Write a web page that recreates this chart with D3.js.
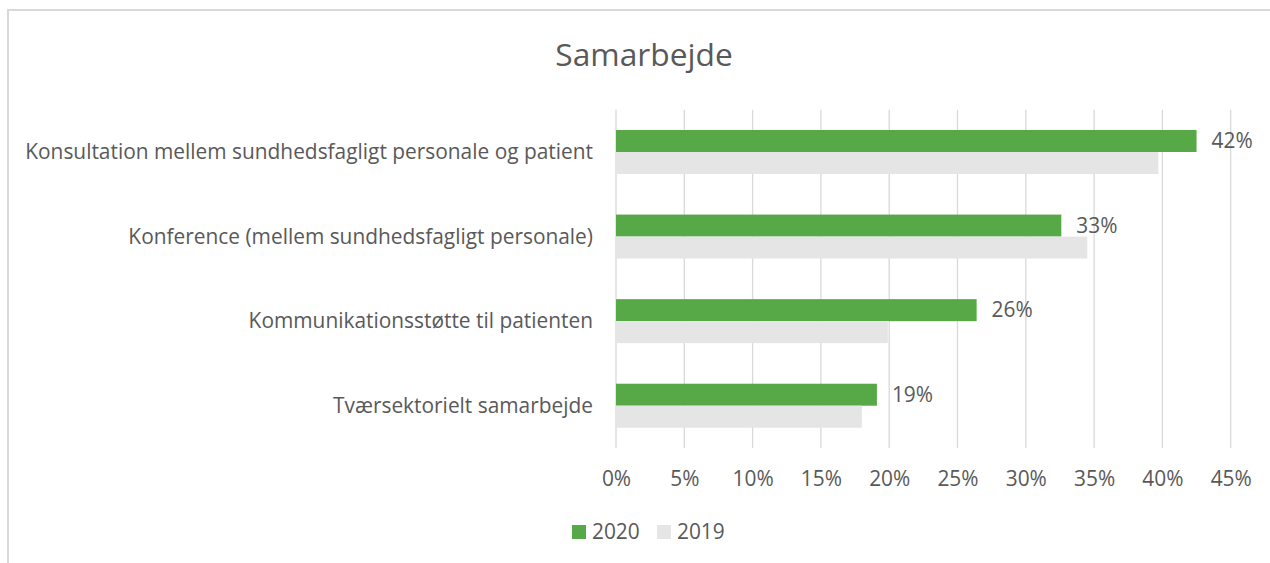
<!DOCTYPE html>
<html><head><meta charset="utf-8">
<script src="https://cdn.jsdelivr.net/npm/d3@7"></script>
<style>
html,body{margin:0;padding:0;background:#fff;}
svg{display:block;}
text{font-family:"Open Sans","Noto Sans",sans-serif;fill:#595959;}
</style></head>
<body>
<script>
const categories = [
  "Konsultation mellem sundhedsfagligt personale og patient",
  "Konference (mellem sundhedsfagligt personale)",
  "Kommunikationsstøtte til patienten",
  "Tværsektorielt samarbejde"
];
const values2020 = [0.425, 0.326, 0.264, 0.191];
const values2019 = [0.397, 0.345, 0.199, 0.180];
const labels2020 = ["42%", "33%", "26%", "19%"];
const seriesNames = ["2020", "2019"];
const xTicks = [0, 0.05, 0.10, 0.15, 0.20, 0.25, 0.30, 0.35, 0.40, 0.45];
const title = "Samarbejde";

const W = 1270, H = 563;
const colors = {"2020": "#57a846", "2019": "#e5e5e5"};

const svg = d3.select("body").append("svg").attr("width", W).attr("height", H);

// chart border
svg.append("path")
  .attr("d", `M8,${H} L8,10 L${W},10`)
  .attr("fill", "none").attr("stroke", "#d9d9d9").attr("stroke-width", 2);

const x = d3.scaleLinear().domain([0, 0.45]).range([616, 1230.7]);
const y = d3.scaleBand().domain(categories).range([109.7, 448]).paddingInner(0.48).paddingOuter(0.24);
const sub = d3.scaleBand().domain(seriesNames).range([0, y.bandwidth()]);

// fit font size to reference width of longest label
const probe = svg.append("text").attr("font-size", 100).text(categories[0]);
const w100 = probe.node().getComputedTextLength();
probe.remove();
const fs = 100 * 568 / w100;

// gridlines
svg.append("g").selectAll("line").data(xTicks).join("line")
  .attr("x1", d => x(d)).attr("x2", d => x(d))
  .attr("y1", 109.7).attr("y2", 448)
  .attr("stroke", "#d9d9d9").attr("stroke-width", 1.3);

// bars
const groups = svg.append("g").selectAll("g").data(categories).join("g")
  .attr("transform", d => `translate(0,${y(d)})`);
groups.append("rect")
  .attr("x", x(0)).attr("y", sub("2020"))
  .attr("width", (d, i) => x(values2020[i]) - x(0))
  .attr("height", sub.bandwidth())
  .attr("fill", colors["2020"]);
groups.append("rect")
  .attr("x", x(0)).attr("y", sub("2019"))
  .attr("width", (d, i) => x(values2019[i]) - x(0))
  .attr("height", sub.bandwidth())
  .attr("fill", colors["2019"]);
groups.append("text")
  .attr("x", (d, i) => x(values2020[i]) + 15)
  .attr("y", sub("2020") + sub.bandwidth() / 2)
  .attr("dy", "0.35em")
  .attr("font-size", fs)
  .text((d, i) => labels2020[i]);

// category labels
svg.append("g").selectAll("text").data(categories).join("text")
  .attr("x", 593)
  .attr("y", d => y(d) + y.bandwidth() / 2)
  .attr("dy", "0.35em")
  .attr("text-anchor", "end")
  .attr("font-size", fs)
  .text(d => d);

// x axis tick labels
const xAxis = d3.axisBottom(x).tickValues(xTicks).tickFormat(d3.format(".0%")).tickSize(0).tickPadding(0);
const gx = svg.append("g").attr("transform", "translate(0,471)").call(xAxis);
gx.select(".domain").remove();
gx.selectAll("text").attr("font-size", fs).attr("fill", "#595959")
  .style("font-family", '"Open Sans","Noto Sans",sans-serif').attr("dy", "0.71em");

// title
svg.append("text")
  .attr("x", 644).attr("y", 55).attr("dy", "0.35em")
  .attr("text-anchor", "middle")
  .attr("font-size", fs * 1.52)
  .text(title);

// legend
const legendItems = [{name: "2020", x: 572}, {name: "2019", x: 657}];
const lg = svg.append("g").selectAll("g").data(legendItems).join("g")
  .attr("transform", d => `translate(${d.x},525)`);
lg.append("rect").attr("width", 14).attr("height", 14).attr("fill", d => colors[d.name]);
lg.append("text").attr("x", 20).attr("y", 7).attr("dy", "0.35em")
  .attr("font-size", fs).text(d => d.name);
</script>
</body></html>
